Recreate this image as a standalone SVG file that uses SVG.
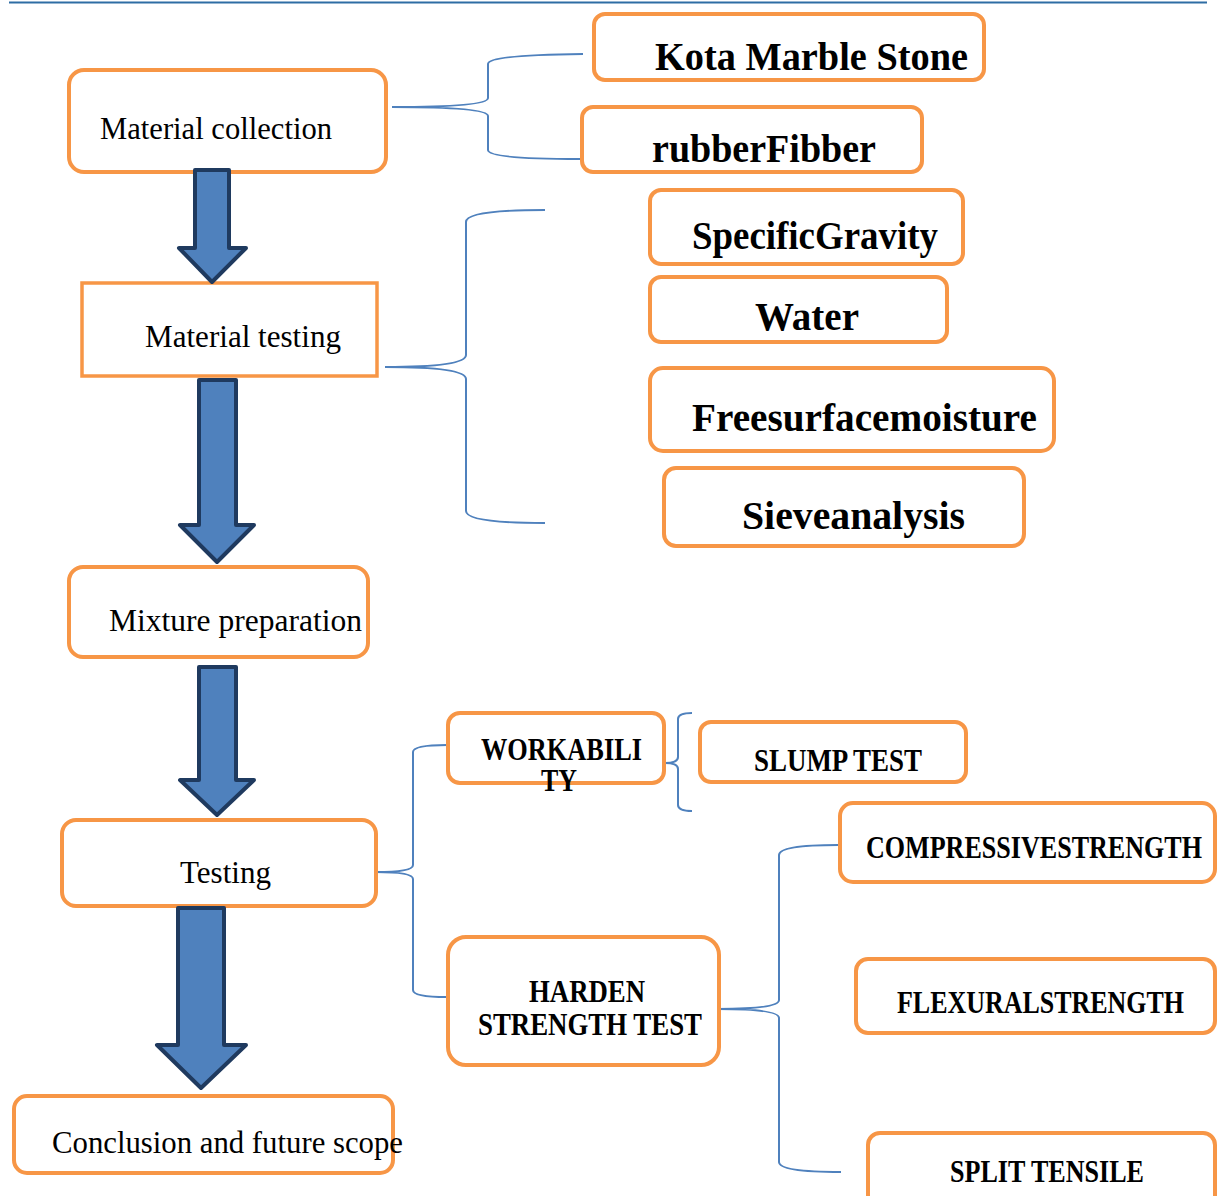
<svg xmlns="http://www.w3.org/2000/svg" width="1217" height="1196" viewBox="0 0 1217 1196">
<style>
.box{fill:#fff;stroke:#F79646;stroke-width:4}
.sq{fill:#fff;stroke:#F79646;stroke-width:3.5}
.br{fill:none;stroke:#4F81BD;stroke-width:2}
.ar{fill:#4F81BD;stroke:#1F3A5F;stroke-width:4;stroke-linejoin:round}
.t{font-family:"Liberation Serif","DejaVu Serif",serif;font-size:31px;fill:#000}
.b{font-family:"Liberation Serif","DejaVu Serif",serif;font-weight:bold;font-size:39px;fill:#000}
.c{font-family:"Liberation Serif","DejaVu Serif",serif;font-weight:bold;font-size:31px;fill:#000}
</style>
<rect width="1217" height="1196" fill="#fff"/>
<line x1="9" y1="2.5" x2="1207" y2="2.5" stroke="#2E6DA4" stroke-width="2"/>
<g id="connectors">
<path class="br" d="M392,107 Q488,107 488,98 L488,64 Q488,55 583,54 M392,107 Q488,107 488,116 L488,150 Q488,159 580,159"/>
<path class="br" d="M385,367 Q466,367 466,355 L466,222 Q466,210 545,210 M385,367 Q466,367 466,379 L466,511 Q466,523 545,523"/>
<path class="br" d="M376,872 Q413,872 413,865 L413,752 Q413,745 447,745 M376,872 Q413,872 413,879 L413,990 Q413,997 447,997"/>
<path class="br" d="M665,763 Q678,763 678,757 L678,719 Q678,713 692,713 M665,763 Q678,763 678,769 L678,805 Q678,811 692,811"/>
<path class="br" d="M718,1009 Q779,1009 779,1000 L779,855 Q779,845 838,845 M718,1009 Q779,1009 779,1018 L779,1162 Q779,1172 841,1172"/>
</g>
<g id="kota"><rect class="box" x="594" y="14" width="390" height="66" rx="11"/><text class="b" x="655" y="70" textLength="313" lengthAdjust="spacingAndGlyphs">Kota Marble Stone</text></g>
<g id="rubber"><rect class="box" x="582" y="107" width="340" height="65" rx="11"/><text class="b" x="652" y="162" textLength="224" lengthAdjust="spacingAndGlyphs">rubberFibber</text></g>
<g id="collection"><rect class="box" x="69" y="70" width="317" height="102" rx="15"/><text class="t" x="100" y="139" textLength="232" lengthAdjust="spacingAndGlyphs">Material collection</text></g>
<g id="testing1"><rect class="sq" x="82" y="283" width="295" height="93"/><text class="t" x="145" y="347" textLength="196" lengthAdjust="spacingAndGlyphs">Material testing</text></g>
<g id="gravity"><rect class="box" x="650" y="190" width="313" height="74" rx="11"/><text class="b" x="692" y="249" textLength="246" lengthAdjust="spacingAndGlyphs">SpecificGravity</text></g>
<g id="water"><rect class="box" x="650" y="277" width="297" height="65" rx="11"/><text class="b" x="755" y="330" textLength="104" lengthAdjust="spacingAndGlyphs">Water</text></g>
<g id="moisture"><rect class="box" x="650" y="368" width="404" height="83" rx="13"/><text class="b" x="692" y="431" textLength="345" lengthAdjust="spacingAndGlyphs">Freesurfacemoisture</text></g>
<g id="sieve"><rect class="box" x="664" y="468" width="360" height="78" rx="12"/><text class="b" x="742" y="529" textLength="223" lengthAdjust="spacingAndGlyphs">Sieveanalysis</text></g>
<g id="mixture"><rect class="box" x="69" y="567" width="299" height="90" rx="14"/><text class="t" x="109" y="631" textLength="253" lengthAdjust="spacingAndGlyphs">Mixture preparation</text></g>
<g id="testing"><rect class="box" x="62" y="820" width="314" height="86" rx="14"/><text class="t" x="180" y="883" textLength="91" lengthAdjust="spacingAndGlyphs">Testing</text></g>
<g id="conclusion"><rect class="box" x="14" y="1096" width="379" height="77" rx="13"/><text class="t" x="52" y="1153" textLength="351" lengthAdjust="spacingAndGlyphs">Conclusion and future scope</text></g>
<g id="workability"><rect class="box" x="448" y="713" width="216" height="70" rx="12"/><text class="c" x="481" y="760" textLength="161" lengthAdjust="spacingAndGlyphs">WORKABILI</text><text class="c" x="541" y="791" textLength="36" lengthAdjust="spacingAndGlyphs">TY</text></g>
<g id="slump"><rect class="box" x="700" y="722" width="266" height="60" rx="11"/><text class="c" x="754" y="771" textLength="168" lengthAdjust="spacingAndGlyphs">SLUMP TEST</text></g>
<g id="harden"><rect class="box" x="448" y="937" width="271" height="128" rx="18"/><text class="c" x="529" y="1002" textLength="116" lengthAdjust="spacingAndGlyphs">HARDEN</text><text class="c" x="478" y="1035" textLength="224" lengthAdjust="spacingAndGlyphs">STRENGTH TEST</text></g>
<g id="compressive"><rect class="box" x="840" y="803" width="375" height="79" rx="13"/><text class="c" x="866" y="858" textLength="336" lengthAdjust="spacingAndGlyphs">COMPRESSIVESTRENGTH</text></g>
<g id="flexural"><rect class="box" x="856" y="959" width="359" height="74" rx="12"/><text class="c" x="897" y="1013" textLength="287" lengthAdjust="spacingAndGlyphs">FLEXURALSTRENGTH</text></g>
<g id="split"><rect class="box" x="868" y="1133" width="347" height="80" rx="12"/><text class="c" x="950" y="1182" textLength="194" lengthAdjust="spacingAndGlyphs">SPLIT TENSILE</text></g>
<g id="arrows">
<polygon class="ar" points="195,170 229,170 229,248 246,248 212,282 179,248 195,248"/>
<polygon class="ar" points="199,380 236,380 236,525 254,525 217,562 180,525 199,525"/>
<polygon class="ar" points="199,667 236,667 236,780 254,780 217,815 180,780 199,780"/>
<polygon class="ar" points="178,908 224,908 224,1045 246,1045 201,1088 157,1045 178,1045"/>
</g>
</svg>
